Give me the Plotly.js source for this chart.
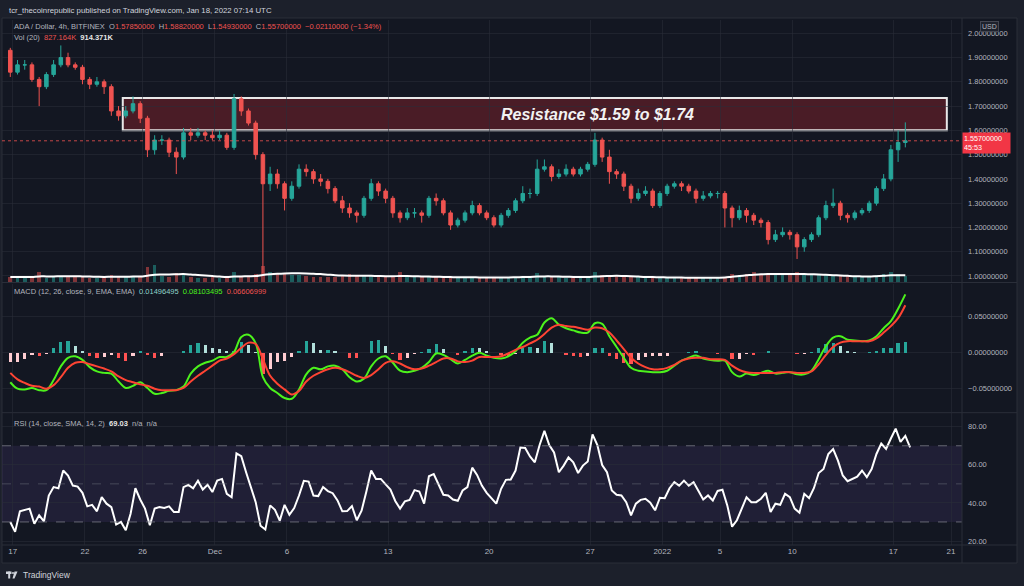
<!DOCTYPE html>
<html>
<head>
<meta charset="utf-8">
<script src="https://cdn.plot.ly/plotly-3.0.1.min.js"></script>
<style>
html,body{margin:0;padding:0;background:#1c202b;}
#chart{width:1024px;height:586px;}
</style>
</head>
<body>
<div id="chart"></div>
<script>
// ---------------- DATA ----------------
// 12h candles starting at this time (ADA / USD)
const CANDLE_START = '2021-11-16T20:00:00Z';
const CANDLE_STEP_HOURS = 12;

const opens = [1.93,1.84,1.87,1.87,1.81,1.78,1.83,1.87,1.90,1.87,
 1.86,1.81,1.79,1.80,1.78,1.68,1.66,1.68,1.71,1.65,
 1.52,1.56,1.56,1.51,1.49,1.59,1.58,1.59,1.58,1.57,
 1.58,1.53,1.73,1.68,1.63,1.50,1.38,1.42,1.38,1.32,
 1.37,1.44,1.43,1.40,1.39,1.36,1.31,1.28,1.26,1.25,
 1.32,1.38,1.35,1.32,1.26,1.24,1.26,1.26,1.25,1.32,
 1.31,1.26,1.21,1.23,1.26,1.29,1.26,1.24,1.21,1.25,
 1.27,1.31,1.34,1.34,1.44,1.45,1.41,1.42,1.44,1.42,
 1.44,1.46,1.56,1.49,1.43,1.42,1.37,1.32,1.34,1.35,
 1.29,1.34,1.37,1.38,1.37,1.35,1.32,1.33,1.34,1.34,
 1.28,1.24,1.27,1.25,1.23,1.22,1.15,1.17,1.18,1.17,
 1.12,1.15,1.17,1.24,1.29,1.30,1.25,1.24,1.26,1.27,
 1.30,1.36,1.40,1.52,1.55];
const highs = [1.94,1.89,1.89,1.88,1.82,1.84,1.89,1.95,1.92,1.88,
 1.87,1.82,1.82,1.81,1.79,1.70,1.70,1.74,1.72,1.66,
 1.58,1.58,1.57,1.53,1.61,1.61,1.61,1.60,1.60,1.60,
 1.59,1.75,1.74,1.69,1.64,1.51,1.45,1.44,1.39,1.39,
 1.46,1.46,1.44,1.42,1.40,1.37,1.33,1.30,1.27,1.33,
 1.40,1.39,1.36,1.33,1.27,1.28,1.28,1.27,1.33,1.34,
 1.32,1.27,1.24,1.27,1.31,1.30,1.27,1.25,1.26,1.28,
 1.32,1.37,1.36,1.48,1.48,1.46,1.44,1.46,1.45,1.45,
 1.47,1.59,1.57,1.52,1.44,1.43,1.38,1.36,1.37,1.36,
 1.35,1.38,1.39,1.39,1.38,1.36,1.35,1.35,1.35,1.35,
 1.29,1.29,1.28,1.26,1.24,1.23,1.19,1.20,1.19,1.18,
 1.16,1.18,1.25,1.31,1.36,1.31,1.26,1.27,1.28,1.31,
 1.37,1.42,1.54,1.60,1.633];
const lows = [1.82,1.83,1.85,1.80,1.70,1.77,1.82,1.86,1.86,1.85,
 1.79,1.77,1.78,1.75,1.66,1.64,1.65,1.67,1.63,1.49,
 1.50,1.54,1.49,1.42,1.48,1.56,1.57,1.56,1.56,1.56,
 1.52,1.52,1.66,1.62,1.48,1.01,1.35,1.36,1.27,1.31,
 1.36,1.41,1.38,1.37,1.34,1.30,1.26,1.24,1.22,1.24,
 1.31,1.33,1.30,1.24,1.22,1.23,1.24,1.22,1.24,1.29,
 1.25,1.19,1.20,1.22,1.25,1.25,1.23,1.20,1.20,1.24,
 1.26,1.30,1.32,1.33,1.43,1.39,1.40,1.41,1.41,1.41,
 1.43,1.45,1.47,1.38,1.40,1.35,1.30,1.31,1.33,1.28,
 1.28,1.33,1.36,1.35,1.34,1.30,1.31,1.32,1.32,1.20,
 1.20,1.23,1.22,1.21,1.20,1.13,1.14,1.16,1.15,1.07,
 1.10,1.14,1.16,1.23,1.28,1.23,1.22,1.23,1.25,1.26,
 1.29,1.35,1.39,1.47,1.53];
const closes = [1.84,1.87,1.87,1.81,1.78,1.83,1.87,1.90,1.87,1.86,
 1.81,1.79,1.80,1.78,1.68,1.66,1.68,1.71,1.65,1.52,
 1.56,1.56,1.51,1.49,1.59,1.58,1.59,1.58,1.57,1.58,
 1.53,1.73,1.68,1.63,1.50,1.38,1.42,1.38,1.32,1.37,
 1.44,1.43,1.40,1.39,1.36,1.31,1.28,1.26,1.25,1.32,
 1.38,1.35,1.32,1.26,1.24,1.26,1.26,1.25,1.32,1.31,
 1.26,1.21,1.23,1.26,1.29,1.26,1.24,1.21,1.25,1.27,
 1.31,1.34,1.34,1.44,1.45,1.41,1.42,1.44,1.42,1.44,
 1.46,1.56,1.49,1.43,1.42,1.37,1.32,1.34,1.35,1.29,
 1.34,1.37,1.38,1.37,1.35,1.32,1.33,1.34,1.34,1.28,
 1.24,1.27,1.25,1.23,1.22,1.15,1.17,1.18,1.17,1.12,
 1.15,1.17,1.24,1.29,1.30,1.25,1.24,1.26,1.27,1.30,
 1.36,1.40,1.52,1.55,1.557];

// volume (thousands) and its 20-period average
const volume = [3000,2500,2200,2600,6000,2400,2800,3500,3000,2600,
 2800,2200,2400,2600,4200,3000,2800,3600,3200,8500,
 9500,3500,3000,5000,4500,2800,2500,2400,2600,2300,
 2700,6000,3500,3000,4500,9000,5500,4500,5000,4000,
 4200,3500,3000,2800,2600,3000,3200,4500,3500,3800,
 3200,2800,2600,3400,6000,3000,2800,2600,3200,2600,
 2400,2800,2600,2500,2700,2600,2400,2800,2600,2400,
 2800,3600,3200,5200,3600,3000,2600,2400,2500,2600,
 2800,5500,4200,3500,4000,3200,3000,2600,2500,3000,
 2600,2400,2300,2200,2400,2600,2500,2300,2400,2800,
 4800,4200,4500,5500,4000,5200,4600,4200,4000,5500,
 4200,3800,4500,4000,3600,3800,3200,3000,2800,3000,
 4200,4500,5500,4800,3500];
const volumeMA = [2800,2800,2800,2900,3200,3200,3200,3300,3300,3300,
 3200,3100,3000,2900,3000,3000,3000,3100,3100,3600,
 4200,4300,4300,4400,4500,4300,4000,3700,3400,3100,
 2900,3100,3200,3300,3400,4000,4400,4700,4900,5000,
 5000,4900,4700,4500,4200,3900,3700,3600,3600,3600,
 3500,3400,3300,3300,3400,3400,3300,3200,3100,3000,
 2900,2800,2700,2700,2700,2600,2600,2600,2600,2600,
 2700,2800,2900,3100,3200,3200,3100,3000,2900,2800,
 2800,3100,3300,3400,3500,3400,3300,3100,2900,2800,
 2700,2600,2500,2500,2400,2400,2400,2400,2400,2500,
 3000,3400,3800,4200,4400,4600,4600,4600,4600,4600,
 4500,4400,4300,4100,3900,3700,3500,3300,3200,3100,
 3300,3500,3800,3900,3900];

// MACD (12, 26, 9) on the same 12h grid
const macdLine = [-0.041,-0.050,-0.051,-0.049,-0.052,-0.052,-0.038,-0.019,-0.007,-0.005,
 -0.010,-0.020,-0.026,-0.028,-0.029,-0.040,-0.049,-0.046,-0.041,-0.049,
 -0.057,-0.056,-0.053,-0.052,-0.047,-0.029,-0.019,-0.014,-0.011,-0.006,
 -0.006,0.001,0.022,0.025,0.013,-0.034,-0.049,-0.056,-0.063,-0.064,
 -0.051,-0.030,-0.021,-0.023,-0.019,-0.018,-0.023,-0.034,-0.040,-0.036,
 -0.019,-0.008,-0.005,-0.014,-0.025,-0.027,-0.025,-0.021,-0.013,-0.001,
 -0.003,-0.009,-0.015,-0.010,-0.004,0.000,-0.004,-0.007,-0.008,-0.005,
 0.002,0.014,0.021,0.025,0.042,0.048,0.039,0.034,0.031,0.028,
 0.028,0.041,0.040,0.023,0.008,-0.007,-0.021,-0.025,-0.026,-0.027,
 -0.027,-0.025,-0.018,-0.011,-0.007,-0.004,-0.008,-0.010,-0.011,-0.011,
 -0.027,-0.033,-0.029,-0.031,-0.028,-0.025,-0.029,-0.028,-0.027,-0.030,
 -0.030,-0.025,-0.009,0.009,0.021,0.023,0.018,0.017,0.016,0.017,
 0.023,0.034,0.044,0.061,0.081];
const macdSignal = [-0.028,-0.037,-0.042,-0.046,-0.047,-0.050,-0.045,-0.034,-0.021,-0.014,
 -0.013,-0.016,-0.019,-0.022,-0.026,-0.033,-0.038,-0.041,-0.044,-0.046,
 -0.050,-0.052,-0.052,-0.052,-0.049,-0.040,-0.032,-0.025,-0.018,-0.011,
 -0.008,-0.002,0.007,0.014,0.012,-0.009,-0.032,-0.043,-0.051,-0.058,
 -0.053,-0.040,-0.032,-0.027,-0.023,-0.021,-0.023,-0.027,-0.032,-0.035,
 -0.031,-0.023,-0.014,-0.012,-0.015,-0.020,-0.023,-0.022,-0.018,-0.013,
 -0.008,-0.008,-0.012,-0.013,-0.011,-0.006,-0.006,-0.006,-0.005,-0.001,
 0.004,0.008,0.013,0.018,0.026,0.035,0.039,0.037,0.036,0.034,
 0.032,0.035,0.034,0.028,0.017,0.005,-0.007,-0.015,-0.020,-0.023,
 -0.023,-0.021,-0.017,-0.011,-0.008,-0.007,-0.007,-0.009,-0.009,-0.010,
 -0.018,-0.024,-0.027,-0.028,-0.028,-0.028,-0.028,-0.027,-0.027,-0.028,
 -0.028,-0.026,-0.016,-0.003,0.008,0.014,0.016,0.016,0.016,0.016,
 0.020,0.028,0.037,0.048,0.066];
const macdHist = [-0.013,-0.013,-0.009,-0.003,-0.005,-0.002,0.007,0.015,0.016,0.009,
 0.003,-0.004,-0.007,-0.006,-0.003,-0.007,-0.011,-0.005,0.003,-0.003,
 -0.007,-0.004,-0.001,0.000,0.002,0.011,0.013,0.011,0.007,0.005,
 0.002,0.003,0.015,0.011,0.001,-0.030,-0.022,-0.013,-0.012,-0.006,
 0.002,0.016,0.014,0.004,0.004,0.003,0.000,-0.007,-0.008,-0.001,
 0.016,0.018,0.009,-0.002,-0.010,-0.007,-0.002,0.001,0.005,0.012,
 0.005,-0.001,-0.003,0.003,0.007,0.006,0.002,-0.001,-0.003,-0.004,
 -0.002,0.006,0.008,0.007,0.016,0.013,0.000,-0.003,-0.005,-0.006,
 -0.004,0.006,0.006,-0.005,-0.009,-0.014,-0.016,-0.010,-0.006,-0.004,
 -0.004,-0.004,-0.001,0.000,0.001,0.003,-0.001,-0.001,-0.002,-0.001,
 -0.009,-0.009,-0.002,-0.003,0.000,0.003,-0.001,-0.001,0.000,-0.002,
 -0.002,0.001,0.007,0.012,0.013,0.009,0.002,0.001,0.000,0.001,
 0.003,0.006,0.007,0.013,0.015];

// RSI (14) on an 8h grid
const RSI_START = '2021-11-16T20:00:00Z';
const RSI_STEP_HOURS = 8;
const rsi = [30.0,24.8,35.6,36.1,37.0,29.1,33.5,30.3,43.9,48.3,
 47.7,57.0,54.4,49.1,48.6,45.3,38.2,39.0,35.6,43.0,
 39.6,37.8,28.6,30.0,25.6,34.3,47.7,41.8,37.0,28.3,
 37.0,37.8,37.3,38.2,35.2,35.2,48.3,49.5,47.7,51.6,
 47.0,49.5,45.7,51.7,52.6,44.8,43.0,66.0,64.5,56.1,
 48.3,40.4,28.0,26.0,38.7,36.4,30.7,39.0,33.8,37.3,
 43.9,51.6,51.2,43.9,43.6,48.3,46.2,45.1,41.3,35.6,
 35.7,38.3,30.9,35.9,46.0,57.0,52.6,52.6,49.7,47.0,
 41.0,37.0,40.8,41.6,46.7,46.0,39.6,54.0,55.2,50.0,
 44.3,43.9,41.8,41.1,46.5,48.3,58.5,54.7,
 49.1,45.3,42.5,39.6,47.4,52.1,52.3,57.0,69.1,68.8,
 64.4,61.3,70.4,77.8,70.4,66.5,56.1,59.6,63.9,61.3,
 55.7,59.6,61.7,76.0,70.4,59.9,56.1,46.5,44.3,43.9,
 40.4,33.5,39.6,41.6,42.2,40.1,36.1,42.7,42.5,47.7,
 50.9,49.1,51.7,49.1,50.9,46.2,41.8,43.9,41.3,46.3,
 46.9,38.7,27.5,30.9,37.0,43.0,40.4,40.4,42.2,45.3,
 35.2,39.6,39.0,44.8,43.0,37.0,34.9,44.8,42.5,47.7,
 55.7,57.8,65.7,68.3,62.2,54.4,51.4,52.6,53.8,57.0,
 53.5,57.8,65.7,71.2,68.3,73.8,79.0,72.0,75.2,69.1];

// axis ticks
const xTickDates = ['2021-11-17','2021-11-22','2021-11-26','2021-12-01','2021-12-06','2021-12-13',
 '2021-12-20','2021-12-27','2022-01-01','2022-01-05','2022-01-10','2022-01-17','2022-01-21'];
const xTickLabels = ['17','22','26','Dec','6','13','20','27','2022','5','10','17','21'];
const priceTicks = [1.0,1.1,1.2,1.3,1.4,1.5,1.6,1.7,1.8,1.9,2.0];
const macdTicks = [-0.05,0,0.05];
const rsiTicks = [20,40,60,80];

// annotation values
const RES_LOW = 1.60, RES_HIGH = 1.733;
const RES_START = '2021-11-24 15:00', RES_END = '2022-01-20 17:00';
const LAST_PRICE = 1.557;
const LAST_PRICE_TEXT = '1.55700000', COUNTDOWN = '45:53';

// ---------------- HELPERS ----------------
function grid(start, stepH, n) {
  const t0 = Date.parse(start), out = [];
  for (let i = 0; i < n; i++) out.push(new Date(t0 + i * stepH * 3600e3).toISOString().slice(0, 19).replace('T', ' '));
  return out;
}
const tCandle = grid(CANDLE_START, CANDLE_STEP_HOURS, closes.length);
const tRsi = grid(RSI_START, RSI_STEP_HOURS, rsi.length);

// plot area: x 2..962 px, y 20..545 px
const PX = x => (x - 2) / 960;
const PY = y => (545 - y) / 525;

const UP = '#26a69a', DOWN = '#ef5350';
const FONT = 'Liberation Sans, Arial, sans-serif';
const GRID = 'rgba(42,46,57,0.55)';

const volColors = closes.map((c, i) => c >= opens[i] ? 'rgba(38,166,154,0.5)' : 'rgba(239,83,80,0.5)');
const histColors = macdHist.map((h, i) => {
  const p = i > 0 ? macdHist[i - 1] : h;
  if (h >= 0) return h >= p ? '#26a69a' : '#b2dfdb';
  return h < p ? '#ff5252' : '#ffcdd2';
});

// ---------------- TRACES ----------------
const traces = [
  {type:'bar', x:tCandle, y:volume, xaxis:'x', yaxis:'y4', marker:{color:volColors, line:{width:0}},
   width:CANDLE_STEP_HOURS*3600e3*0.5, hoverinfo:'skip'},
  {type:'scatter', mode:'lines', x:tCandle, y:volumeMA, xaxis:'x', yaxis:'y4',
   line:{color:'#ffffff', width:2, shape:'spline'}, hoverinfo:'skip'},
  {type:'candlestick', x:tCandle, open:opens, high:highs, low:lows, close:closes, xaxis:'x', yaxis:'y',
   increasing:{line:{color:UP, width:1}, fillcolor:UP},
   decreasing:{line:{color:DOWN, width:1}, fillcolor:DOWN},
   whiskerwidth:0, hoverinfo:'skip'},
  {type:'bar', x:tCandle, y:macdHist, xaxis:'x', yaxis:'y2', marker:{color:histColors, line:{width:0}},
   width:CANDLE_STEP_HOURS*3600e3*0.45, hoverinfo:'skip'},
  {type:'scatter', mode:'lines', x:tCandle, y:macdLine, xaxis:'x', yaxis:'y2',
   line:{color:'#4cf21c', width:2, shape:'spline'}, hoverinfo:'skip'},
  {type:'scatter', mode:'lines', x:tCandle, y:macdSignal, xaxis:'x', yaxis:'y2',
   line:{color:'#ff4433', width:2, shape:'spline'}, hoverinfo:'skip'},
  {type:'scatter', mode:'lines', x:tRsi, y:rsi, xaxis:'x', yaxis:'y3',
   line:{color:'#ffffff', width:2}, hoverinfo:'skip'}
];

// ---------------- LAYOUT ----------------
const tickFont = {family:FONT, size:7.5, color:'#b2b5be'};
const yCommon = {side:'right', anchor:'x', showgrid:true, gridcolor:GRID, zeroline:false, showline:false,
  ticks:'', tickfont:tickFont, ticklabelstandoff:5, fixedrange:true};

const red = v => `<span style="color:#ef5350">${v}</span>`;

const shapes = [
  // chart box
  {type:'rect', xref:'paper', yref:'paper', x0:PX(2), x1:PX(1017), y0:PY(563), y1:PY(18),
   fillcolor:'#131722', line:{color:'#2a2e39', width:1}, layer:'below'},
  // RSI band
  {type:'rect', xref:'paper', yref:'y3', x0:0, x1:1, y0:30, y1:70,
   fillcolor:'rgba(126,87,194,0.13)', line:{width:0}, layer:'below'},
  {type:'line', xref:'paper', yref:'y3', x0:0, x1:1, y0:70, y1:70, line:{color:'rgba(120,123,134,0.8)', width:1, dash:'dash'}},
  {type:'line', xref:'paper', yref:'y3', x0:0, x1:1, y0:50, y1:50, line:{color:'rgba(120,123,134,0.45)', width:1, dash:'dash'}},
  {type:'line', xref:'paper', yref:'y3', x0:0, x1:1, y0:30, y1:30, line:{color:'rgba(120,123,134,0.8)', width:1, dash:'dash'}},
  // resistance zone
  {type:'rect', xref:'x', yref:'y', x0:RES_START, x1:RES_END, y0:RES_LOW, y1:RES_HIGH,
   fillcolor:'rgba(150,36,46,0.42)', line:{color:'#e8e8e8', width:2}, layer:'below'},
  // last price line
  {type:'line', xref:'paper', yref:'y', x0:0, x1:1, y0:LAST_PRICE, y1:LAST_PRICE,
   line:{color:'rgba(239,83,80,0.8)', width:1, dash:'dot'}},
  // pane separators & scale line
  {type:'line', xref:'paper', yref:'paper', x0:PX(2), x1:PX(1017), y0:PY(282.5), y1:PY(282.5), line:{color:'#2a2e39', width:1}},
  {type:'line', xref:'paper', yref:'paper', x0:PX(2), x1:PX(1017), y0:PY(412.7), y1:PY(412.7), line:{color:'#2a2e39', width:1}},
  {type:'line', xref:'paper', yref:'paper', x0:PX(2), x1:PX(1017), y0:PY(545), y1:PY(545), line:{color:'#2a2e39', width:1}},
  {type:'line', xref:'paper', yref:'paper', x0:1, x1:1, y0:PY(563), y1:PY(18), line:{color:'#2a2e39', width:1}},
  // TradingView logo glyph
  {type:'rect', xref:'paper', yref:'paper', x0:PX(6), x1:PX(11.5), y0:PY(574), y1:PY(571.5), fillcolor:'#d1d4dc', line:{width:0}},
  {type:'rect', xref:'paper', yref:'paper', x0:PX(8.2), x1:PX(10.2), y0:PY(578.5), y1:PY(571.5), fillcolor:'#d1d4dc', line:{width:0}},
  {type:'circle', xref:'paper', yref:'paper', x0:PX(12), x1:PX(14), y0:PY(574), y1:PY(572), fillcolor:'#d1d4dc', line:{width:0}},
  {type:'path', xref:'paper', yref:'paper',
   path:`M ${PX(14.5)} ${PY(571.5)} L ${PX(17.5)} ${PY(571.5)} L ${PX(14.5)} ${PY(578.5)} L ${PX(12.5)} ${PY(578.5)} Z`,
   fillcolor:'#d1d4dc', line:{width:0}}
];

const ann = (x, y, text, extra) => Object.assign({xref:'paper', yref:'paper', x:x, y:y, text:text,
  showarrow:false, xanchor:'left', yanchor:'middle', font:{family:FONT, size:7.5, color:'#b2b5be'}}, extra || {});

const annotations = [
  ann(PX(7), PY(10), 'tcr_thecoinrepublic published on TradingView.com, Jan 18, 2022 07:14 UTC', {font:{family:FONT, size:7.8, color:'#d1d4dc'}}),
  ann(PX(12), PY(26), 'ADA / Dollar, 4h, BITFINEX  O' + red('1.57850000') + '  H' + red('1.58820000') +
     '  L' + red('1.54930000') + '  C' + red('1.55700000') + '  ' + red('−0.02110000 (−1.34%)')),
  ann(PX(12), PY(37.7), 'Vol (20)  ' + red('827.164K') + '  <b><span style="color:#e6e6e6">914.371K</span></b>'),
  ann(PX(12), PY(291.7), 'MACD (12, 26, close, 9, EMA, EMA)  <span style="color:#8fd3c9">0.01496495</span>  ' +
     '<span style="color:#4cf21c">0.08103495</span>  ' + red('0.06606999')),
  ann(PX(12), PY(423.3), 'RSI (14, close, SMA, 14, 2)  <b><span style="color:#e6e6e6">69.03</span></b>  n/a  n/a'),
  // resistance label
  {xref:'paper', yref:'y', x:PX(597), y:(RES_LOW + RES_HIGH) / 2, text:'<b><i>Resistance $1.59 to $1.74</i></b>',
   showarrow:false, xanchor:'center', yanchor:'middle', font:{family:FONT, size:16, color:'#f2f2f2'}},
  // last price tag
  {xref:'paper', yref:'y', x:1, y:LAST_PRICE, text:LAST_PRICE_TEXT + '<br>' + COUNTDOWN, showarrow:false,
   xanchor:'left', yanchor:'middle', yshift:-2, align:'left', bgcolor:'#f23645', borderpad:1, width:45,
   font:{family:FONT, size:7.2, color:'#ffffff'}},
  // currency tag
  {xref:'paper', yref:'paper', x:PX(990), y:PY(27), text:'USD', showarrow:false, xanchor:'center', yanchor:'middle',
   bgcolor:'#1e222d', bordercolor:'#434651', borderwidth:1, borderpad:1, font:{family:FONT, size:7, color:'#b2b5be'}},
  // footer
  ann(PX(21), PY(575), 'TradingView', {font:{family:FONT, size:8.5, color:'#d1d4dc'}})
];

const layout = {
  width:1024, height:586,
  margin:{l:2, r:62, t:20, b:41, pad:0},
  paper_bgcolor:'#1c202b', plot_bgcolor:'#131722',
  showlegend:false, bargap:0, hovermode:false,
  font:{family:FONT, color:'#b2b5be'},
  xaxis:{type:'date', domain:[0,1], anchor:'y3', range:['2021-11-16 06:13','2022-01-21 18:14'],
    tickmode:'array', tickvals:xTickDates, ticktext:xTickLabels, tickfont:Object.assign({}, tickFont, {size:8}),
    showgrid:true, gridcolor:GRID, zeroline:false, showline:false, ticks:'', fixedrange:true,
    rangeslider:{visible:false}},
  yaxis:Object.assign({}, yCommon, {domain:[0.501,1], range:[0.9753,2.0548], tickmode:'array',
    tickvals:priceTicks, tickformat:'.8f'}),
  yaxis2:Object.assign({}, yCommon, {domain:[0.2533,0.497], range:[-0.0824,0.0954], tickmode:'array',
    tickvals:macdTicks, tickformat:'.8f'}),
  yaxis3:Object.assign({}, yCommon, {domain:[0,0.2514], range:[17.9,87.2], tickmode:'array',
    tickvals:rsiTicks, tickformat:'.2f'}),
  yaxis4:{overlaying:'y', anchor:'x', side:'left', visible:false, range:[0,150000], fixedrange:true},
  shapes:shapes,
  annotations:annotations
};

Plotly.newPlot('chart', traces, layout, {staticPlot:true, displayModeBar:false});
</script>
</body>
</html>
